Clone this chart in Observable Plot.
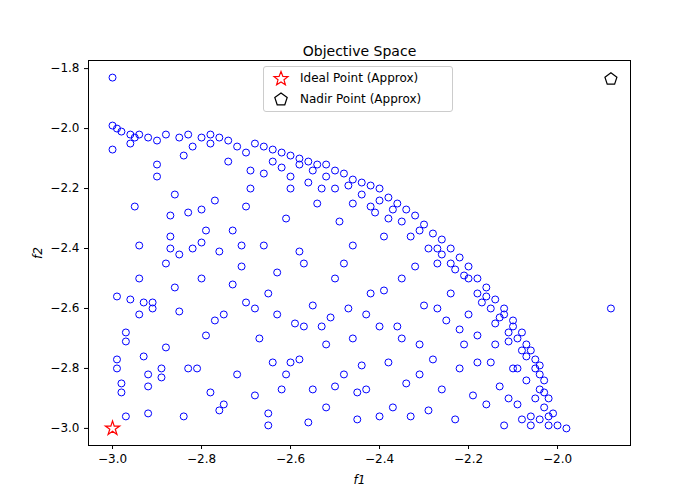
<!DOCTYPE html>
<html>
<head>
<meta charset="utf-8">
<script src="https://cdn.jsdelivr.net/npm/d3@7"></script>
<script src="https://cdn.jsdelivr.net/npm/@observablehq/plot@0.6"></script>
<style>
body { margin: 0; background: #fff; font-family: "DejaVu Sans", sans-serif; }
#wrap { position: relative; width: 700px; height: 500px; }
#legend { position: absolute; left: 263px; top: 66px; width: 188px; height: 44px;
  border: 1px solid #ccc; border-radius: 3px; background: rgba(255,255,255,0.85); font-size: 12px; }
#legend div { display: flex; align-items: center; height: 21px; padding-left: 8px; }
#legend svg { margin-right: 10px; }
</style>
</head>
<body>
<div id="wrap">
<div id="chart"></div>
<div id="legend">
  <div><svg width="18" height="16"><path d="M9,1.5 L10.9,6.4 L16,6.6 L12,9.8 L13.4,14.8 L9,12 L4.6,14.8 L6,9.8 L2,6.6 L7.1,6.4 Z" fill="none" stroke="red" stroke-width="1.2"/></svg>Ideal Point (Approx)</div>
  <div><svg width="18" height="16"><path d="M9,2 L15.2,6.5 L12.8,13.8 L5.2,13.8 L2.8,6.5 Z" fill="none" stroke="black" stroke-width="1.2"/></svg>Nadir Point (Approx)</div>
</div>
</div>
<script>
// population objectives [f1, f2]
const front = [
  [-3.0,-1.99],[-2.99,-2.0],[-2.98,-2.01],[-2.96,-2.02],[-2.94,-2.02],[-2.92,-2.03],[-2.85,-2.03],[-2.83,-2.02],
  [-2.8,-2.03],[-2.78,-2.02],[-2.76,-2.03],[-2.74,-2.04],[-2.68,-2.05],[-2.66,-2.06],[-2.64,-2.07],[-2.62,-2.08],
  [-2.6,-2.09],[-2.58,-2.1],[-2.56,-2.11],[-2.54,-2.12],[-2.52,-2.12],[-2.5,-2.14],[-2.48,-2.15],[-2.46,-2.17],
  [-2.44,-2.18],[-2.42,-2.19],[-2.4,-2.2],[-2.38,-2.23],[-2.36,-2.25],[-2.34,-2.27],[-2.32,-2.29],[-2.3,-2.32],
  [-2.28,-2.35],[-2.26,-2.37],[-2.24,-2.4],[-2.22,-2.43],[-2.2,-2.46],[-2.18,-2.5],[-2.16,-2.53],[-2.14,-2.57],
  [-2.12,-2.6],[-2.1,-2.64],[-2.08,-2.68],[-2.06,-2.74],[-2.04,-2.79],[-2.03,-2.84],[-2.02,-2.9],[-2.01,-2.95],
  [-2.0,-2.99],[-1.98,-3.0],[-2.02,-2.99],[-2.04,-2.97],
  [-2.95,-2.03],[-2.9,-2.04],[-2.82,-2.06],[-2.78,-2.05],[-2.72,-2.06],[-2.69,-2.14],[-2.66,-2.15],[-2.62,-2.13],
  [-2.58,-2.12],[-2.55,-2.14],[-2.52,-2.16],[-2.5,-2.2],[-2.47,-2.19],[-2.44,-2.22],[-2.4,-2.24],[-2.37,-2.27],
  [-2.35,-2.31],[-2.31,-2.34],[-2.29,-2.4],[-2.26,-2.42],[-2.23,-2.47],[-2.2,-2.5],[-2.18,-2.55],[-2.15,-2.6],
  [-2.13,-2.63],[-2.11,-2.68],[-2.09,-2.7],[-2.07,-2.76],[-2.05,-2.8],[-2.04,-2.87],[-2.03,-2.93],[-2.06,-2.99],[-2.08,-2.97],
  [-2.88,-2.02],[-2.7,-2.08],[-2.64,-2.11],[-2.6,-2.16],[-2.56,-2.18],[-2.53,-2.2],[-2.46,-2.25],[-2.42,-2.26],
  [-2.38,-2.3],[-2.33,-2.36],[-2.27,-2.4],[-2.24,-2.45],[-2.21,-2.49],[-2.16,-2.56],[-2.12,-2.62],[-2.1,-2.66],
  [-2.07,-2.72],[-2.05,-2.77],[-2.03,-2.88],[-2.02,-2.96]
];
const inner = [
  [-3.0,-1.83],[-3.0,-2.07],[-2.99,-2.56],[-2.99,-2.77],[-2.99,-2.8],[-2.98,-2.85],[-2.98,-2.88],[-2.97,-2.68],
  [-2.97,-2.71],[-2.96,-2.57],[-2.96,-2.05],[-2.95,-2.26],[-2.94,-2.39],[-2.94,-2.5],[-2.94,-2.62],[-2.93,-2.76],
  [-2.92,-2.86],[-2.92,-2.82],[-2.92,-2.95],[-2.97,-2.96],[-2.91,-2.58],[-2.91,-2.6],[-2.9,-2.16],[-2.9,-2.12],
  [-2.89,-2.8],[-2.89,-2.83],[-2.88,-2.73],[-2.88,-2.45],[-2.87,-2.36],[-2.87,-2.29],[-2.86,-2.53],[-2.86,-2.22],
  [-2.85,-2.61],[-2.85,-2.42],[-2.84,-2.96],[-2.84,-2.09],[-2.83,-2.28],[-2.82,-2.4],[-2.81,-2.8],[-2.8,-2.27],
  [-2.8,-2.38],[-2.8,-2.5],[-2.79,-2.69],[-2.78,-2.88],[-2.77,-2.64],[-2.77,-2.24],[-2.76,-2.41],[-2.76,-2.94],
  [-2.75,-2.92],[-2.75,-2.62],[-2.74,-2.11],[-2.73,-2.34],[-2.72,-2.82],[-2.71,-2.39],[-2.71,-2.46],[-2.7,-2.58],
  [-2.7,-2.26],[-2.69,-2.2],[-2.68,-2.89],[-2.67,-2.7],[-2.66,-2.39],[-2.65,-2.55],[-2.65,-2.95],[-2.65,-2.99],
  [-2.64,-2.78],[-2.63,-2.62],[-2.62,-2.87],[-2.61,-2.82],[-2.61,-2.3],[-2.6,-2.2],[-2.59,-2.65],[-2.58,-2.41],
  [-2.58,-2.77],[-2.57,-2.45],[-2.56,-2.98],[-2.55,-2.59],[-2.54,-2.25],[-2.53,-2.66],[-2.52,-2.93],[-2.51,-2.63],
  [-2.5,-2.86],[-2.5,-2.5],[-2.49,-2.31],[-2.48,-2.82],[-2.47,-2.6],[-2.46,-2.39],[-2.46,-2.7],[-2.45,-2.97],
  [-2.44,-2.79],[-2.43,-2.87],[-2.42,-2.55],[-2.41,-2.28],[-2.4,-2.66],[-2.39,-2.36],[-2.38,-2.78],[-2.37,-2.93],
  [-2.36,-2.66],[-2.35,-2.5],[-2.34,-2.85],[-2.33,-2.96],[-2.32,-2.46],[-2.31,-2.72],[-2.3,-2.59],[-2.29,-2.94],
  [-2.28,-2.77],[-2.27,-2.45],[-2.26,-2.87],[-2.25,-2.64],[-2.24,-2.55],[-2.23,-2.97],[-2.22,-2.8],[-2.21,-2.72],
  [-2.2,-2.62],[-2.19,-2.89],[-2.18,-2.69],[-2.17,-2.58],[-2.16,-2.92],[-2.15,-2.78],[-2.14,-2.65],[-2.13,-2.86],
  [-2.12,-2.99],[-2.11,-2.71],[-2.1,-2.8],[-2.09,-2.92],[-2.08,-2.74],[-2.07,-2.84],[-2.06,-2.96],[-2.05,-2.9],
  [-2.04,-2.82],[-1.88,-2.6],
  [-2.93,-2.58],[-2.87,-2.4],[-2.83,-2.8],[-2.79,-2.34],[-2.73,-2.52],[-2.68,-2.6],[-2.63,-2.48],[-2.57,-2.66],
  [-2.52,-2.72],[-2.48,-2.45],[-2.43,-2.62],[-2.39,-2.54],[-2.35,-2.7],[-2.31,-2.82],[-2.27,-2.6],[-2.22,-2.67],
  [-2.18,-2.78],[-2.14,-2.72],[-2.11,-2.9],[-2.09,-2.8],[-2.6,-2.78],[-2.55,-2.87],[-2.45,-2.88],[-2.4,-2.96]
];
const ideal = [[-3.0, -3.0]];
const nadir = [[-1.88, -1.835]];
const xTicks = [-3.0, -2.8, -2.6, -2.4, -2.2, -2.0];
const yTicks = [-3.0, -2.8, -2.6, -2.4, -2.2, -2.0, -1.8];

const points = front.concat(inner);

const pentagon = {
  draw(context, size) {
    const r = Math.sqrt(size / 2.4);
    for (let i = 0; i < 5; i++) {
      const a = -Math.PI / 2 + i * 2 * Math.PI / 5;
      if (i === 0) context.moveTo(r * Math.cos(a), r * Math.sin(a));
      else context.lineTo(r * Math.cos(a), r * Math.sin(a));
    }
    context.closePath();
  }
};

const chart = Plot.plot({
  width: 700,
  height: 500,
  marginLeft: 88,
  marginRight: 70,
  marginTop: 60,
  marginBottom: 55,
  style: { "font-family": "DejaVu Sans", "font-size": "12px", color: "black" },
  x: { domain: [-3.054, -1.836], ticks: xTicks, tickFormat: d3.format(".1f"), label: "f1", labelArrow: false, labelAnchor: "center", labelOffset: 38, tickSize: 4 },
  y: { domain: [-3.057, -1.773], ticks: yTicks, tickFormat: d3.format(".1f"), label: "f2", labelArrow: false, labelAnchor: "center", labelOffset: 55, tickSize: 4 },
  marks: [
    Plot.frame({ stroke: "black" }),
    Plot.dot(points, { x: d => d[0], y: d => d[1], r: 3.5, stroke: "blue", strokeWidth: 1, fill: "none" }),
    Plot.dot(ideal, { x: d => d[0], y: d => d[1], symbol: "star", r: 4.5, stroke: "red", strokeWidth: 1.2, fill: "none" }),
    Plot.dot(nadir, { x: d => d[0], y: d => d[1], symbol: pentagon, r: 5.5, stroke: "black", strokeWidth: 1.2, fill: "none" }),
    Plot.text(["Objective Space"], { frameAnchor: "top", dy: -14, fontSize: 14, fill: "black" })
  ]
});
chart.querySelectorAll("text").forEach(t => {
  if (/^f[12]\s*[→↑]?$/.test(t.textContent.trim())) {
    t.textContent = t.textContent.replace(/[→↑]/g, "").trim();
    t.setAttribute("font-style", "italic");
  }
});
d3.select("#chart").append(() => chart);
</script>
</body>
</html>
